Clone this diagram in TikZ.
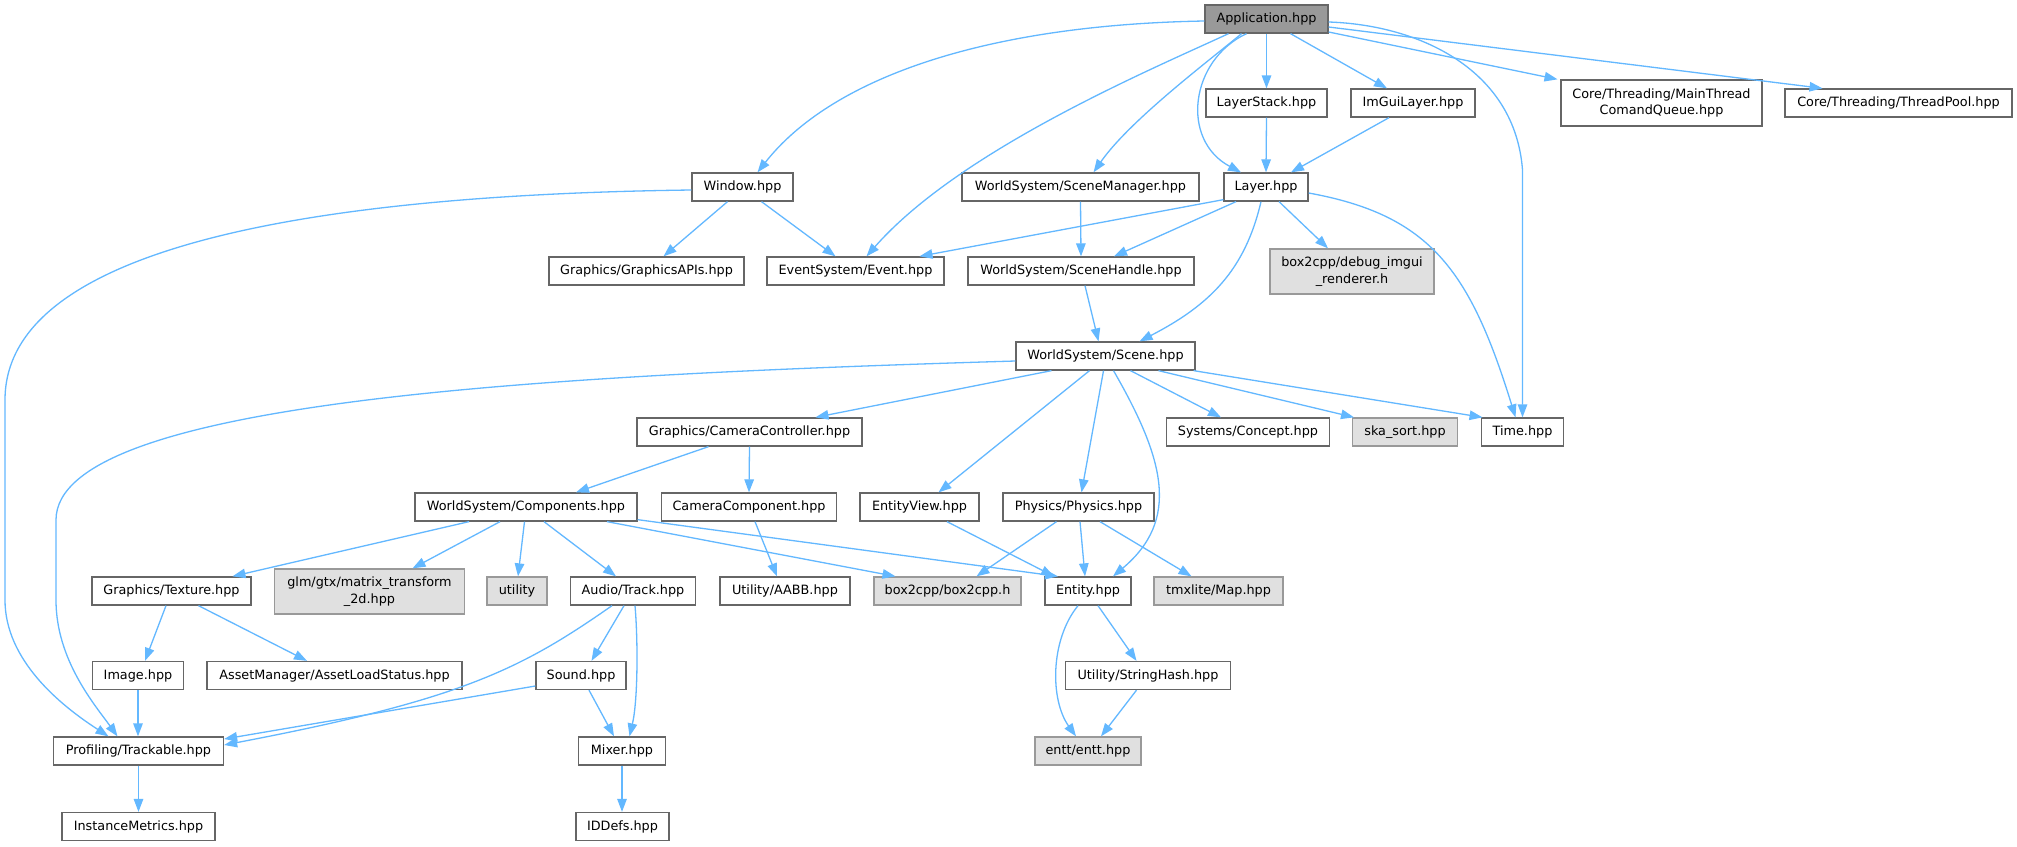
\documentclass[tikz,border=0pt]{standalone}
\usepackage{fontspec}
\setmainfont{DejaVu Sans}
\usetikzlibrary{arrows.meta}
\definecolor{edgec}{HTML}{63B8FF}
\definecolor{bordc}{HTML}{666666}
\definecolor{extbord}{HTML}{999999}
\definecolor{extfill}{HTML}{E0E0E0}
\definecolor{appfill}{HTML}{999999}
\tikzset{
  nd/.style={rectangle, draw=bordc, fill=white, line width=1.3pt, inner sep=0pt,
    minimum height=28pt, align=center, text=black,
    font=\fontsize{12.8}{16.5}\selectfont},
  ext/.style={nd, draw=extbord, fill=extfill},
  root/.style={nd, fill=appfill},
  edge/.style={draw=edgec, line width=1.3pt, -{Triangle[length=13pt,width=9.5pt]}}
}
\begin{document}
\begin{tikzpicture}[x=1pt,y=-1pt]
\fill[white] (0,0) rectangle (2017,846);
\useasboundingbox (0,0) rectangle (2017,846);

% nodes
\node[root, minimum width=123pt] (app) at (1266.5,19) {Application.hpp};
\node[nd, minimum width=121pt] (layerstack) at (1266.5,103) {LayerStack.hpp};
\node[nd, minimum width=124pt] (imgui) at (1413,103) {ImGuiLayer.hpp};
\node[nd, minimum width=201pt, minimum height=46pt] (mtq) at (1661.5,103) {Core/Threading/MainThread\\ComandQueue.hpp};
\node[nd, minimum width=227pt] (threadpool) at (1898.5,103) {Core/Threading/ThreadPool.hpp};
\node[nd, minimum width=101pt] (window) at (742.5,187) {Window.hpp};
\node[nd, minimum width=237pt] (scenemgr) at (1080.5,187) {WorldSystem/SceneManager.hpp};
\node[nd, minimum width=84pt] (layer) at (1266,187) {Layer.hpp};
\node[nd, minimum width=195pt] (gapi) at (646.5,271) {Graphics/GraphicsAPIs.hpp};
\node[nd, minimum width=177pt] (event) at (855.5,271) {EventSystem/Event.hpp};
\node[nd, minimum width=226pt] (scenehandle) at (1081,271) {WorldSystem/SceneHandle.hpp};
\node[ext, minimum width=164pt, minimum height=45pt] (b2dbg) at (1352,271.5) {box2cpp/debug\_imgui\\\_renderer.h};
\node[nd, minimum width=179pt] (scene) at (1105.5,356) {WorldSystem/Scene.hpp};
\node[nd, minimum width=225pt] (camctrl) at (749.5,432) {Graphics/CameraController.hpp};
\node[nd, minimum width=163pt] (concept) at (1248,432) {Systems/Concept.hpp};
\node[ext, minimum width=105pt] (skasort) at (1405,432) {ska\_sort.hpp};
\node[nd, minimum width=82pt] (time) at (1522.5,432) {Time.hpp};
\node[nd, minimum width=222pt] (components) at (526,507) {WorldSystem/Components.hpp};
\node[nd, minimum width=175pt] (camcomp) at (749,507) {CameraComponent.hpp};
\node[nd, minimum width=119pt] (entityview) at (919.5,507) {EntityView.hpp};
\node[nd, minimum width=151pt] (physics) at (1078.5,507) {Physics/Physics.hpp};
\node[nd, minimum width=159pt] (texture) at (171.5,591) {Graphics/Texture.hpp};
\node[ext, minimum width=190pt, minimum height=45pt] (glm) at (369.5,591.5) {glm/gtx/matrix\_transform\\\_2d.hpp};
\node[ext, minimum width=60pt] (utility) at (517,591) {utility};
\node[nd, minimum width=125pt] (track) at (633,591) {Audio/Track.hpp};
\node[nd, minimum width=130pt] (aabb) at (785,591) {Utility/AABB.hpp};
\node[ext, minimum width=147pt] (b2h) at (947.5,591) {box2cpp/box2cpp.h};
\node[nd, minimum width=86pt] (entity) at (1088,591) {Entity.hpp};
\node[ext, minimum width=129pt] (tmx) at (1218.5,591) {tmxlite/Map.hpp};
\node[nd, minimum width=91pt] (image) at (138,675.5) {Image.hpp};
\node[nd, minimum width=255pt] (assetload) at (334.5,675.5) {AssetManager/AssetLoadStatus.hpp};
\node[nd, minimum width=90pt] (sound) at (581,675.5) {Sound.hpp};
\node[nd, minimum width=165pt] (stringhash) at (1148,675.5) {Utility/StringHash.hpp};
\node[nd, minimum width=170pt] (profiling) at (138.5,751) {Profiling/Trackable.hpp};
\node[nd, minimum width=87pt] (mixer) at (622,751) {Mixer.hpp};
\node[ext, minimum width=106pt] (entt) at (1088,751) {entt/entt.hpp};
\node[nd, minimum width=153pt] (instmetrics) at (138.5,826.5) {InstanceMetrics.hpp};
\node[nd, minimum width=93pt] (iddefs) at (622.5,826.5) {IDDefs.hpp};

% edges from Application
\draw[edge] ([yshift=-2pt]app.west) .. controls (980,25) and (830,80) .. ([xshift=15pt]window.north);
\draw[edge] ([xshift=-38pt]app.south) .. controls (1150,70) and (960,150) .. ([xshift=11pt]event.north);
\draw[edge] ([xshift=-25pt]app.south) .. controls (1210,60) and (1130,120) .. ([xshift=13pt]scenemgr.north);
\draw[edge] ([xshift=-20pt]app.south) .. controls (1190,60) and (1180,140) .. ([xshift=-25pt]layer.north);
\draw[edge] (app.south) -- (layerstack.north);
\draw[edge] ([xshift=24pt]app.south) -- ([xshift=-26pt]imgui.north);
\draw[edge] ([yshift=-13pt]app.east) -- ([xshift=-104pt]mtq.north);
\draw[edge] ([yshift=-8pt]app.east) -- ([xshift=-76pt]threadpool.north);
\draw[edge] ([yshift=-3pt]app.east) .. controls (1420,25) and (1515,70) .. (1522.5,170) -- (time.north);

% Layer stack / imgui
\draw[edge] (layerstack.south) -- (layer.north);
\draw[edge] ([xshift=-24pt]imgui.south) -- ([xshift=25pt]layer.north);

% Window
\draw[edge] ([xshift=-15pt]window.south) -- ([xshift=17pt]gapi.north);
\draw[edge] ([xshift=19pt]window.south) -- ([xshift=-20pt]event.north);
\draw[edge] ([yshift=-3pt]window.west) .. controls (300,195) and (5,250) .. (5,400) -- (5,600) .. controls (5,660) and (60,705) .. ([xshift=-30pt]profiling.north);

% SceneManager
\draw[edge] (scenemgr.south) -- (scenehandle.north);

% Layer
\draw[edge] ([yshift=2pt]layer.south west) -- ([xshift=64pt]event.north);
\draw[edge] ([xshift=-30pt]layer.south) -- ([xshift=33pt]scenehandle.north);
\draw[edge] ([xshift=-5pt]layer.south) .. controls (1245,270) and (1210,305) .. ([xshift=34pt]scene.north);
\draw[edge] ([xshift=13pt]layer.south) -- ([xshift=-24pt]b2dbg.north);
\draw[edge] ([yshift=-6pt]layer.east) .. controls (1430,215) and (1470,270) .. ([xshift=-7pt]time.north);

% SceneHandle
\draw[edge] ([xshift=4pt]scenehandle.south) -- ([xshift=-7pt]scene.north);

% Scene
\draw[edge] ([yshift=-5pt]scene.west) .. controls (550,375) and (56,400) .. (56,520) -- (56,600) .. controls (56,660) and (95,705) .. ([xshift=-21pt]profiling.north);
\draw[edge] ([xshift=-54pt]scene.south) -- ([xshift=66pt]camctrl.north);
\draw[edge] ([xshift=-16pt]scene.south) -- ([xshift=19pt]entityview.north);
\draw[edge] ([xshift=-2pt]scene.south) -- ([xshift=3pt]physics.north);
\draw[edge] ([xshift=8pt]scene.south) .. controls (1165,460) and (1180,520) .. ([xshift=25pt]entity.north);
\draw[edge] ([xshift=25pt]scene.south) -- ([xshift=-27pt]concept.north);
\draw[edge] ([xshift=53pt]scene.south) -- ([xshift=-51pt]skasort.north);
\draw[edge] ([xshift=-2pt]scene.south east) -- ([xshift=-40pt]time.north);

% CameraController
\draw[edge] ([xshift=-41pt]camctrl.south) -- ([xshift=50pt]components.north);
\draw[edge] (camctrl.south) -- (camcomp.north);

% Components
\draw[edge] ([xshift=-57pt]components.south) -- ([xshift=61pt]texture.north);
\draw[edge] ([xshift=-26pt]components.south) -- ([xshift=43pt]glm.north);
\draw[edge] ([xshift=-1.5pt]components.south) -- ([xshift=1pt]utility.north);
\draw[edge] ([xshift=18pt]components.south) -- ([xshift=-17pt]track.north);
\draw[edge] ([xshift=81pt]components.south) -- ([xshift=-52pt]b2h.north);
\draw[edge] ([yshift=2pt]components.south east) -- ([xshift=-30pt]entity.north);

% CameraComponent, EntityView, Physics
\draw[edge] ([xshift=6pt]camcomp.south) -- ([xshift=-8pt]aabb.north);
\draw[edge] ([xshift=27.5pt]entityview.south) -- ([xshift=-34pt]entity.north);
\draw[edge] ([xshift=-22pt]physics.south) -- ([xshift=29pt]b2h.north);
\draw[edge] ([xshift=1.5pt]physics.south) -- ([xshift=-3pt]entity.north);
\draw[edge] ([xshift=21.5pt]physics.south) -- ([xshift=-27pt]tmx.north);

% Texture
\draw[edge] ([xshift=-5.5pt]texture.south) -- ([xshift=7pt]image.north);
\draw[edge] ([xshift=27pt]texture.south) -- ([xshift=-27.5pt]assetload.north);

% Track
\draw[edge] ([xshift=-21pt]track.south) .. controls (520,670) and (460,700) .. ([yshift=6pt]profiling.east);
\draw[edge] ([xshift=-9pt]track.south) -- ([xshift=10.5pt]sound.north);
\draw[edge] ([xshift=2pt]track.south) .. controls (638,640) and (638,700) .. ([xshift=7.5pt]mixer.north);

% Sound
\draw[edge] ([yshift=-10.5pt]sound.west) -- ([yshift=12pt]profiling.east);
\draw[edge] ([xshift=8pt]sound.south) -- ([xshift=-8pt]mixer.north);

% Image, Profiling, Mixer
\draw[edge] (image.south) -- (image.south |- profiling.north);
\draw[edge] (profiling.south) -- (instmetrics.north);
\draw[edge] (mixer.south) -- (mixer.south |- iddefs.north);

% Entity, StringHash
\draw[edge] ([xshift=10pt]entity.south) -- ([xshift=-11.5pt]stringhash.north);
\draw[edge] ([xshift=-10pt]entity.south) .. controls (1050,640) and (1050,700) .. ([xshift=-12pt]entt.north);
\draw[edge] ([xshift=-11.5pt]stringhash.south) -- ([xshift=13pt]entt.north);
\end{tikzpicture}
\end{document}
